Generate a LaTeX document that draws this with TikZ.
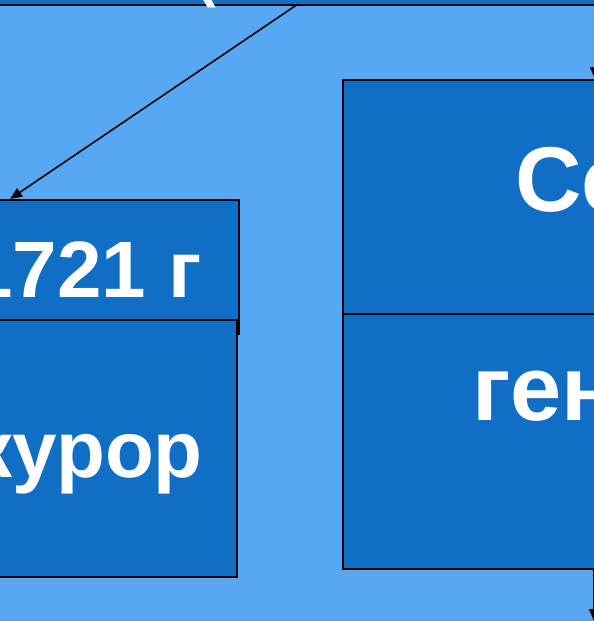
\documentclass[tikz,border=0pt]{standalone}
\usepackage{fontspec}
\setmainfont{Liberation Sans}
\usetikzlibrary{arrows.meta}
\definecolor{bgblue}{RGB}{86,168,242}
\definecolor{boxblue}{RGB}{16,111,197}
\tikzset{
  box/.style={draw=black, line width=2pt, fill=boxblue, inner sep=0pt, anchor=north west},
  lbl/.style={text=white, inner sep=0pt, font=\bfseries\fontsize{80}{90}\selectfont},
  rlbl/.style={text=white, inner sep=0pt, font=\bfseries\fontsize{92}{100}\selectfont},
  arr/.style={draw=black, line width=1.6pt, -{Triangle[length=12pt,width=10pt]}}
}
\begin{document}
\begin{tikzpicture}[x=1pt,y=-1pt]
\useasboundingbox (0,0) rectangle (594,621);
\clip (0,0) rectangle (594,621);
\fill[bgblue] (0,0) rectangle (594,621);
% top box
\node[box, minimum width=640pt, minimum height=104pt] (top) at (-20,-100) {};
\node[text=white, inner sep=0pt, anchor=south, font=\bfseries\fontsize{60}{70}\selectfont] (paren) at (206,8) {(};
% right boxes
\node[box, minimum width=280pt, minimum height=234pt] (sen) at (342,79) {};
\node[box, minimum width=280pt, minimum height=255pt] (gen) at (342,313) {};
% left boxes
\node[box, minimum width=258pt, minimum height=134pt] (yr) at (-20,199) {};
\node[box, minimum width=256pt, minimum height=257pt] (pro) at (-20,319) {};
% texts
\node[lbl, anchor=base east] (tyr) at (202,297) {1721 г};
\node[lbl, anchor=base east] (tpro) at (203,477) {курор};
\node[rlbl, anchor=base west] (tsen) at (515,211) {Се};
\node[rlbl, anchor=base west] (tgen) at (472,420) {ген};
% connectors
\coordinate (s1) at (298,4);
\coordinate (e1) at (10,199);
\draw[arr] (s1) -- (e1);
\coordinate (s2) at (595,4);
\coordinate (e2) at (595,79);
\draw[arr] (s2) -- (e2);
\coordinate (s3) at (594,568);
\coordinate (e3) at (594,621);
\draw[arr] (s3) -- (e3);
\end{tikzpicture}
\end{document}
